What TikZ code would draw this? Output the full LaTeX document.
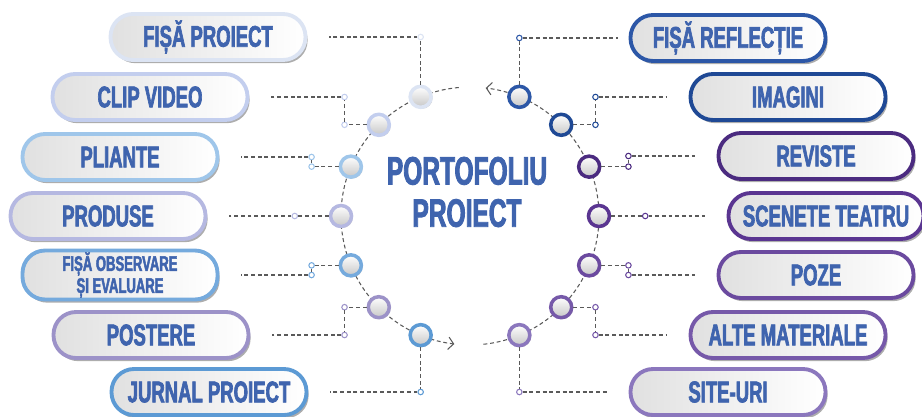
\documentclass[tikz,border=0pt]{standalone}
\usepackage{fontspec}
\newfontfamily\condfont[FakeStretch=0.62, FakeBold=2.2]{Liberation Sans}
\usetikzlibrary{positioning,shadows,arrows.meta}

\definecolor{txtblue}{HTML}{3F64AE}
\definecolor{linkgray}{HTML}{5A5A5A}
\definecolor{cl1}{HTML}{DCE4F3}
\definecolor{cl2}{HTML}{C3CEEE}
\definecolor{cl3}{HTML}{9FC6EA}
\definecolor{cl4}{HTML}{B5B8E1}
\definecolor{cl5}{HTML}{75AADD}
\definecolor{cl6}{HTML}{9C92C8}
\definecolor{cl7}{HTML}{5C9AD4}
\definecolor{cr1}{HTML}{2C57A7}
\definecolor{cr2}{HTML}{1F4995}
\definecolor{cr3}{HTML}{4B2B80}
\definecolor{cr4}{HTML}{5A3591}
\definecolor{cr5}{HTML}{6B4A9F}
\definecolor{cr6}{HTML}{7659A9}
\definecolor{cr7}{HTML}{8B77BD}

\tikzset{
    capsule/.style={draw=#1, line width=2.2pt, rounded corners=0.45cm,
        minimum width=3.9cm, minimum height=0.92cm, left color=black!12, right color=white,
        text=txtblue, font=\condfont\bfseries\fontsize{17}{18}\selectfont,
        drop shadow={shadow xshift=1.2pt, shadow yshift=-1.8pt, fill=black!40, opacity=0.8}},
    ring/.style={circle, draw=#1, line width=2pt, minimum size=0.42cm, inner sep=0pt,
        top color=white, bottom color=black!22,
        drop shadow={shadow xshift=0.8pt, shadow yshift=-0.8pt, fill=black!35, opacity=0.6}},
    dot/.style={circle, draw=#1, line width=0.6pt, fill=white, minimum size=0.11cm, inner sep=0pt},
    link/.style={draw=linkgray, line width=0.6pt, dash pattern=on 2.2pt off 1.6pt},
    tail/.style={link, shorten >=0.44cm},
}

\begin{document}
\begin{tikzpicture}[x=0.02cm, y=0.02cm]
        \useasboundingbox (0,0) rectangle (922,416);

        \node[text=txtblue, align=center, font=\condfont\bfseries\fontsize{22.5}{24}\selectfont]
            (title) at (467,224) {PORTOFOLIU\\PROIECT};

        \coordinate (O) at (470,200);
        \draw[link, -{Straight Barb[length=3pt,width=7pt]}] ([shift={(95:2.58cm)}]O)
            arc[start angle=95, end angle=263, radius=2.58cm];
        \draw[link, -{Straight Barb[length=3pt,width=7pt]}] ([shift={(-84:2.58cm)}]O)
            arc[start angle=-84, end angle=83, radius=2.58cm];

        % left side
        \node[capsule=cl1] (L1) at (208,379) {FIȘĂ PROIECT};
        \node[capsule=cl2] (L2) at (150,319) {CLIP VIDEO};
        \node[capsule=cl3] (L3) at (120,259) {PLIANTE};
        \node[capsule=cl4] (L4) at (108,200) {PRODUSE};
        \node[capsule=cl5, align=center, inner sep=1pt,
            font=\condfont\bfseries\fontsize{12}{12.5}\selectfont] (L5) at (120,141) {FIȘĂ OBSERVARE\\ȘI EVALUARE};
        \node[capsule=cl6] (L6) at (151,81) {POSTERE};
        \node[capsule=cl7] (L7) at (209,24) {JURNAL PROIECT};

        \node[ring=cl1] (l1) at ([shift={(112.5:2.58cm)}]O) {};
        \node[ring=cl2] (l2) at ([shift={(135:2.58cm)}]O) {};
        \node[ring=cl3] (l3) at ([shift={(157.5:2.58cm)}]O) {};
        \node[ring=cl4] (l4) at ([shift={(180:2.58cm)}]O) {};
        \node[ring=cl5] (l5) at ([shift={(202.5:2.58cm)}]O) {};
        \node[ring=cl6] (l6) at ([shift={(225:2.58cm)}]O) {};
        \node[ring=cl7] (l7) at ([shift={(247.5:2.58cm)}]O) {};

        \node[dot=cl1] (p1) at (l1 |- L1) {};
        \node[dot=cl2, left=0.62cm of l2.center] (p2) {};
        \node[dot=cl2] (p2b) at (p2 |- L2) {};
        \node[dot=cl3, left=0.72cm of l3.center] (p3) {};
        \node[dot=cl3] (p3b) at (p3 |- L3) {};
        \node[dot=cl4, left=0.86cm of l4.center] (p4) {};
        \node[dot=cl5, left=0.72cm of l5.center] (p5) {};
        \node[dot=cl5] (p5b) at (p5 |- L5) {};
        \node[dot=cl6, left=0.62cm of l6.center] (p6) {};
        \node[dot=cl6] (p6b) at (p6 |- L6) {};
        \node[dot=cl7] (p7) at (l7 |- L7) {};

        \draw[link] (l1) -- (p1);  \draw[tail] (p1) -- (p1 -| L1.east);
        \draw[link] (l2) -- (p2) (p2) -- (p2b);  \draw[tail] (p2b) -- (p2b -| L2.east);
        \draw[link] (l3) -- (p3) (p3) -- (p3b);  \draw[tail] (p3b) -- (p3b -| L3.east);
        \draw[link] (l4) -- (p4);  \draw[tail] (p4) -- (p4 -| L4.east);
        \draw[link] (l5) -- (p5) (p5) -- (p5b);  \draw[tail] (p5b) -- (p5b -| L5.east);
        \draw[link] (l6) -- (p6) (p6) -- (p6b);  \draw[tail] (p6b) -- (p6b -| L6.east);
        \draw[link] (l7) -- (p7);  \draw[tail] (p7) -- (p7 -| L7.east);

        % right side
        \node[capsule=cr1] (R1) at (728,378) {FIȘĂ REFLECȚIE};
        \node[capsule=cr2] (R2) at (788,319) {IMAGINI};
        \node[capsule=cr3] (R3) at (816,260) {REVISTE};
        \node[capsule=cr4] (R4) at (826,200) {SCENETE TEATRU};
        \node[capsule=cr5] (R5) at (816,141) {POZE};
        \node[capsule=cr6] (R6) at (788,81) {ALTE MATERIALE};
        \node[capsule=cr7] (R7) at (728,24) {SITE-URI};

        \node[ring=cr1] (r1) at ([shift={(67.5:2.58cm)}]O) {};
        \node[ring=cr2] (r2) at ([shift={(45:2.58cm)}]O) {};
        \node[ring=cr3] (r3) at ([shift={(22.5:2.58cm)}]O) {};
        \node[ring=cr4] (r4) at ([shift={(0:2.58cm)}]O) {};
        \node[ring=cr5] (r5) at ([shift={(-22.5:2.58cm)}]O) {};
        \node[ring=cr6] (r6) at ([shift={(-45:2.58cm)}]O) {};
        \node[ring=cr7] (r7) at ([shift={(-67.5:2.58cm)}]O) {};

        \node[dot=cr1] (q1) at (r1 |- R1) {};
        \node[dot=cr2, right=0.62cm of r2.center] (q2) {};
        \node[dot=cr2] (q2b) at (q2 |- R2) {};
        \node[dot=cr3, right=0.72cm of r3.center] (q3) {};
        \node[dot=cr3] (q3b) at (q3 |- R3) {};
        \node[dot=cr4, right=0.86cm of r4.center] (q4) {};
        \node[dot=cr5, right=0.72cm of r5.center] (q5) {};
        \node[dot=cr5] (q5b) at (q5 |- R5) {};
        \node[dot=cr6, right=0.62cm of r6.center] (q6) {};
        \node[dot=cr6] (q6b) at (q6 |- R6) {};
        \node[dot=cr7] (q7) at (r7 |- R7) {};

        \draw[link] (r1) -- (q1);  \draw[link, shorten >=0.22cm] (q1) -- (q1 -| R1.west);
        \draw[link] (r2) -- (q2) (q2) -- (q2b);  \draw[tail] (q2b) -- (q2b -| R2.west);
        \draw[link] (r3) -- (q3) (q3) -- (q3b);  \draw[tail] (q3b) -- (q3b -| R3.west);
        \draw[link] (r4) -- (q4);  \draw[tail] (q4) -- (q4 -| R4.west);
        \draw[link] (r5) -- (q5) (q5) -- (q5b);  \draw[tail] (q5b) -- (q5b -| R5.west);
        \draw[link] (r6) -- (q6) (q6) -- (q6b);  \draw[tail] (q6b) -- (q6b -| R6.west);
        \draw[link] (r7) -- (q7);  \draw[tail] (q7) -- (q7 -| R7.west);
    \end{tikzpicture}
\end{document}
